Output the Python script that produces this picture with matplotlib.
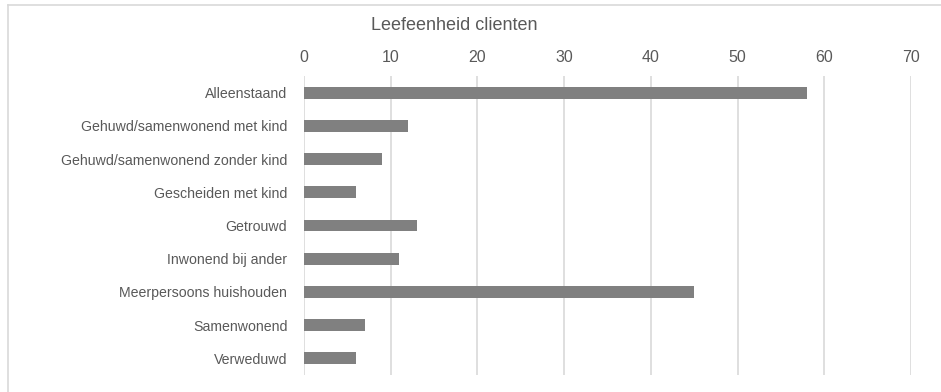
import matplotlib
matplotlib.use("Agg")
import matplotlib.pyplot as plt
from matplotlib.lines import Line2D

categories = [
    "Alleenstaand",
    "Gehuwd/samenwonend met kind",
    "Gehuwd/samenwonend zonder kind",
    "Gescheiden met kind",
    "Getrouwd",
    "Inwonend bij ander",
    "Meerpersoons huishouden",
    "Samenwonend",
    "Verweduwd",
]
values = [58, 12, 9, 6, 13, 11, 45, 7, 6]
xticks = [0, 10, 20, 30, 40, 50, 60, 70]
title = "Leefeenheid clienten"

plt.rcParams["font.family"] = ["Liberation Sans", "DejaVu Sans"]
text_color = "#595959"
grid_color = "#d9d9d9"
bar_color = "#808080"

W, H = 941, 392
fig = plt.figure(figsize=(W / 100, H / 100), dpi=100)
ax = fig.add_axes([304 / W, 1 - 375 / H, (911 - 304) / W, 299 / H])

ypos = list(range(len(categories)))
ax.barh(ypos, values, height=0.36, color=bar_color, zorder=3)
ax.set_ylim(len(categories) - 0.5, -0.5)
ax.set_yticks(ypos)
ax.set_yticklabels(categories, fontsize=10.2, color=text_color)

ax.set_xlim(0, 70)
ax.set_xticks(xticks)
ax.xaxis.tick_top()
ax.tick_params(axis="x", labelsize=11.5, colors=text_color, length=0, pad=8)
ax.tick_params(axis="y", length=0, pad=12)
ax.grid(axis="x", color=grid_color, linewidth=1.2, zorder=0)
for s in ax.spines.values():
    s.set_visible(False)

fig.text(454 / W, 1 - 25 / H, title, ha="center", va="center",
         fontsize=13, color=text_color)

# outer frame (top and left edges)
fig.add_artist(Line2D([7.5 / W, 1.0], [1 - 5 / H, 1 - 5 / H],
                      transform=fig.transFigure, color=grid_color, linewidth=1.2))
fig.add_artist(Line2D([7.5 / W, 7.5 / W], [0.0, 1 - 5 / H],
                      transform=fig.transFigure, color=grid_color, linewidth=1.2))

fig.savefig("out.png", dpi=100)
